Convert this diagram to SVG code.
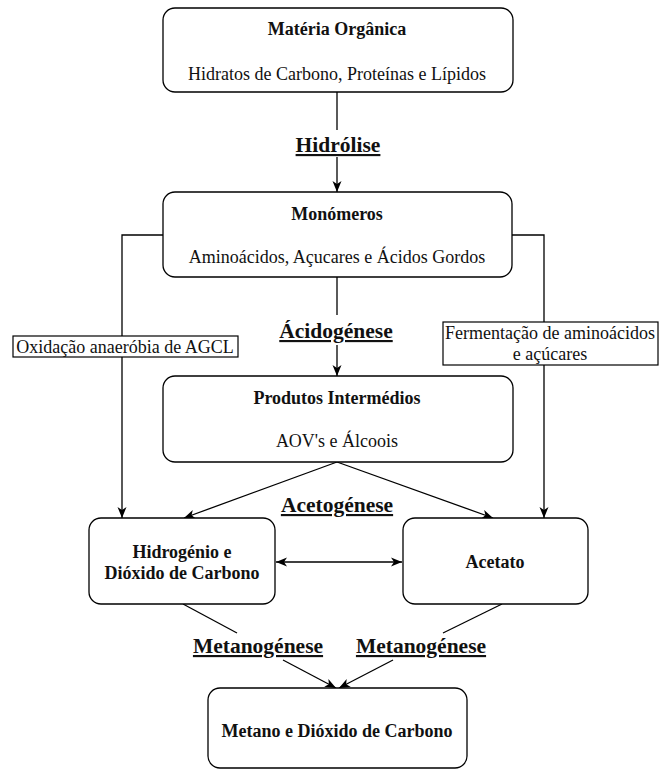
<svg xmlns="http://www.w3.org/2000/svg" width="659" height="771" viewBox="0 0 659 771">
<style>
.box{fill:#fff;stroke:#000;stroke-width:1.3}
.lab{fill:#fff;stroke:#000;stroke-width:1.2}
text{font-family:'Liberation Serif','DejaVu Serif',serif}
.t{font-size:18px;fill:#111;text-anchor:middle}
.b{font-weight:bold}
.st{font-size:21.5px;font-weight:bold;fill:#111;text-anchor:middle;text-decoration:underline}
.c{fill:none;stroke:#000;stroke-width:1.3}
</style>
<defs>
<marker id="ah" markerUnits="userSpaceOnUse" markerWidth="12" markerHeight="12" viewBox="0 0 12 12" refX="11" refY="6" orient="auto-start-reverse">
<path d="M0,1.5 L11,6 L0,10.5 L3,6 Z" fill="#000"/>
</marker>
</defs>
<rect width="659" height="771" fill="#fff"/>
<g id="connectors">
<path class="c" d="M337,92 V130"/>
<path class="c" d="M337,157 V192" marker-end="url(#ah)"/>
<path class="c" d="M337,277 V315"/>
<path class="c" d="M337,345 V376" marker-end="url(#ah)"/>
<path class="c" d="M163,235 H122 V518" marker-end="url(#ah)"/>
<path class="c" d="M512,235 H544 V518" marker-end="url(#ah)"/>
<path class="c" d="M337,462 L184,518" marker-end="url(#ah)"/>
<path class="c" d="M337,462 L493,518" marker-end="url(#ah)"/>
<path class="c" d="M276,562 H402" marker-start="url(#ah)" marker-end="url(#ah)"/>
<path class="c" d="M183,604 L237,633"/>
<path class="c" d="M283,660 L336,688" marker-end="url(#ah)"/>
<path class="c" d="M502,604 L443,633"/>
<path class="c" d="M393,660 L339,688" marker-end="url(#ah)"/>
</g>
<g id="materia">
<rect class="box" x="163" y="8" width="350" height="84" rx="12"/>
<text class="t b" x="337" y="35" font-family="Liberation Serif, serif">Matéria Orgânica</text>
<text class="t" x="337" y="80" font-family="Liberation Serif, serif">Hidratos de Carbono, Proteínas e Lípidos</text>
</g>
<g id="hidrolise">
<text class="st" x="338" y="152">Hidrólise</text>
</g>
<g id="monomeros">
<rect class="box" x="163" y="192" width="349" height="85" rx="12"/>
<text class="t b" x="337" y="220">Monómeros</text>
<text class="t" x="337" y="263">Aminoácidos, Açucares e Ácidos Gordos</text>
</g>
<g id="acidogenese">
<text class="st" x="336" y="338">Ácidogénese</text>
</g>
<g id="oxidacao">
<rect class="lab" x="13" y="336" width="225" height="21"/>
<text class="t" x="125" y="353">Oxidação anaeróbia de AGCL</text>
</g>
<g id="fermentacao">
<rect class="lab" x="443" y="322" width="215" height="43"/>
<text class="t" x="550" y="339">Fermentação de aminoácidos</text>
<text class="t" x="550" y="360">e açúcares</text>
</g>
<g id="produtos">
<rect class="box" x="163" y="376" width="350" height="86" rx="12"/>
<text class="t b" x="337" y="404">Produtos Intermédios</text>
<text class="t" x="337" y="447">AOV's e Álcoois</text>
</g>
<g id="acetogenese">
<text class="st" x="337" y="512">Acetogénese</text>
</g>
<g id="hidrogenio">
<rect class="box" x="89" y="518" width="186" height="86" rx="12"/>
<text class="t b" x="182" y="558">Hidrogénio e</text>
<text class="t b" x="182" y="579">Dióxido de Carbono</text>
</g>
<g id="acetato">
<rect class="box" x="403" y="518" width="185" height="86" rx="12"/>
<text class="t b" x="495" y="568">Acetato</text>
</g>
<g id="metanogenese1">
<text class="st" x="258" y="653">Metanogénese</text>
</g>
<g id="metanogenese2">
<text class="st" x="421" y="653">Metanogénese</text>
</g>
<g id="metano">
<rect class="box" x="208" y="688" width="259" height="80" rx="12"/>
<text class="t b" x="337" y="737">Metano e Dióxido de Carbono</text>
</g>
</svg>
